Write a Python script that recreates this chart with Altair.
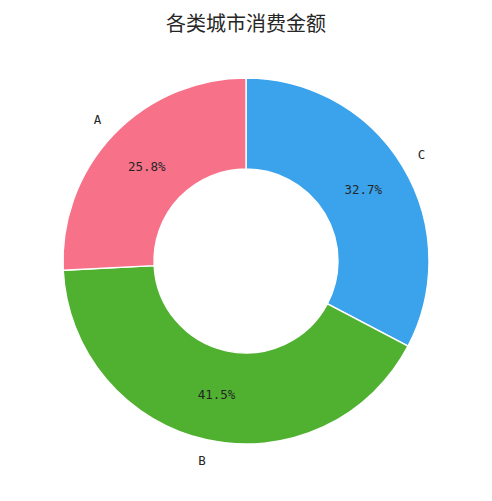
import altair as alt
import pandas as pd

categories = ["C", "B", "A"]
values = [32.7, 41.5, 25.8]
colors = ["#3ba3ec", "#50b131", "#f77189"]
order = [0, 1, 2]

df = pd.DataFrame({
    "cat": categories,
    "value": values,
    "ord": order,
})
df["pct"] = [f"{v:.1f}%" for v in values]

W, H = 476, 485
cx, cy = 238, 253

base = alt.Chart(df).encode(
    theta=alt.Theta("value:Q", stack=True),
    order=alt.Order("ord:Q"),
)

arcs = base.mark_arc(
    outerRadius=183, innerRadius=92, stroke="white", strokeWidth=1.4
).encode(
    color=alt.Color("cat:N", scale=alt.Scale(domain=categories, range=colors), legend=None),
    x=alt.value(cx), y=alt.value(cy),
)

labels = base.mark_text(
    radius=205, font="DejaVu Sans Mono", fontSize=12.5, color="#262626"
).encode(text="cat:N", x=alt.value(cx), y=alt.value(cy))

pcts = base.mark_text(
    radius=137, font="DejaVu Sans Mono", fontSize=12.5, color="#262626"
).encode(text="pct:N", x=alt.value(cx), y=alt.value(cy))

title = alt.Chart(pd.DataFrame({"t": ["各类城市消费金额"]})).mark_text(
    font="Noto Sans CJK SC", fontSize=20, color="#262626", baseline="alphabetic"
).encode(text="t:N", x=alt.value(238), y=alt.value(23))

chart = alt.layer(arcs, labels, pcts, title).properties(
    width=W, height=H, padding=0,
    autosize=alt.AutoSizeParams(type="none"),
).configure_view(stroke=None)

chart.save("out.html", embed_options={"renderer": "svg", "actions": False})
